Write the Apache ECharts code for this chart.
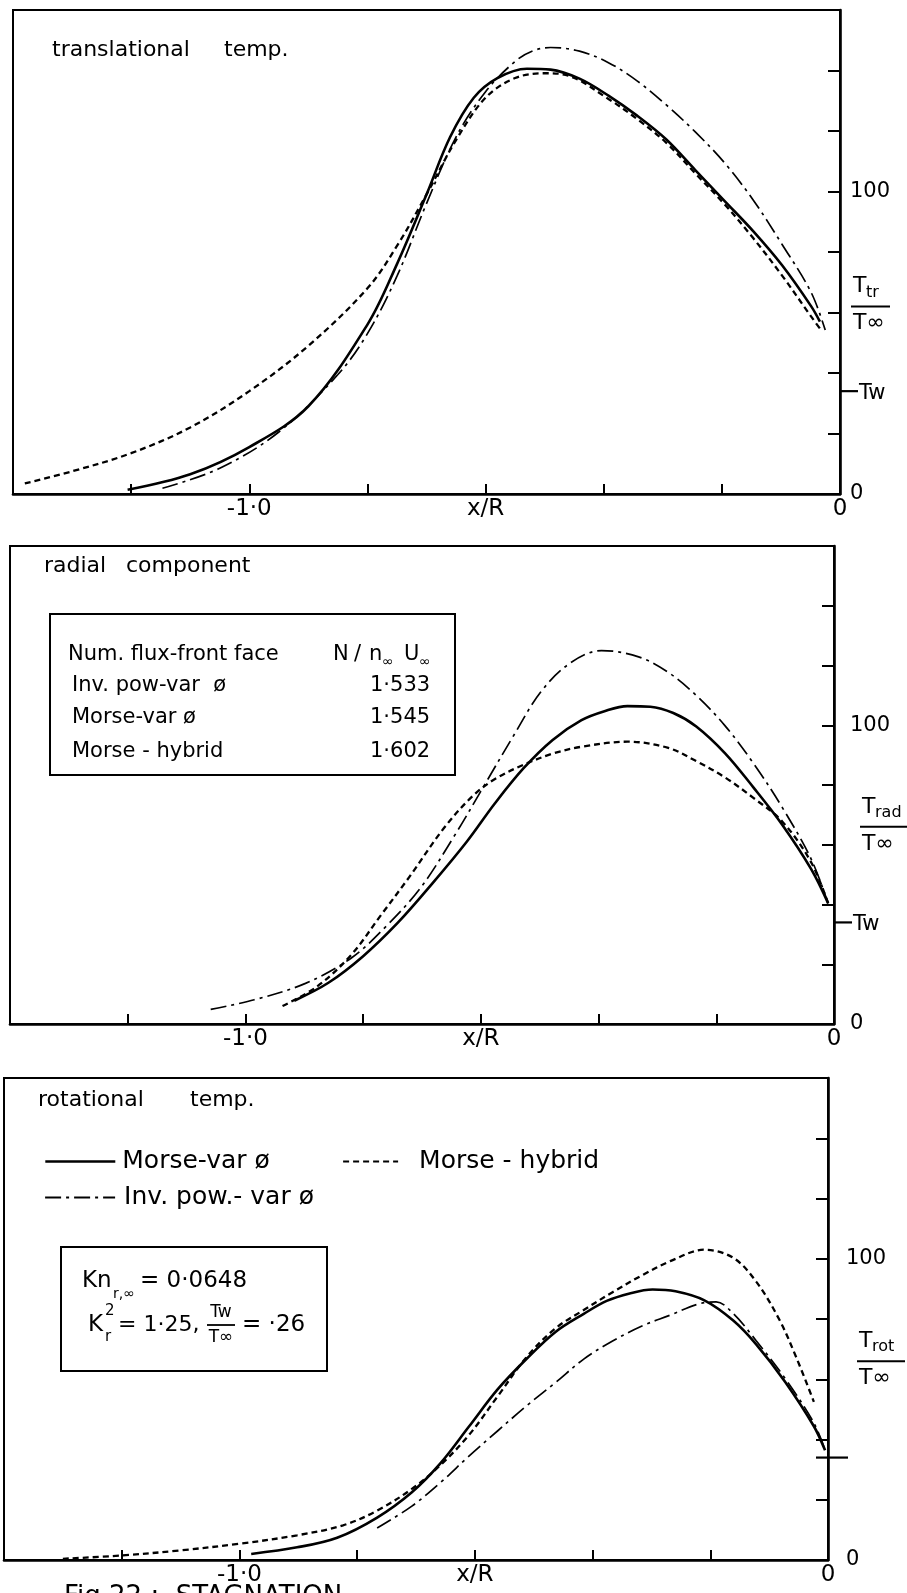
<!DOCTYPE html>
<html><head><meta charset="utf-8">
<script src="https://cdn.jsdelivr.net/npm/echarts@6/dist/echarts.min.js"></script>
<style>html,body{margin:0;padding:0;background:#fff;}#c{width:907px;height:1593px;}</style>
</head><body><div id="c"></div>
<script>
// ---------------- DATA ----------------
const X_MIN = -1.4, X_MAX = 0, X_STEP = 0.2;
const Y_MIN = 0, Y_MAX = 160, Y_STEP = 20;
const TW_LEVEL = 34;                       // Tw mark on the T/T∞ axis
const X_TICK_LABELS = { '-1': '-1·0', '-0.6': 'x/R', '0': '0' };
const Y_TICK_LABELS = { '0': '0', '100': '100' };

const PANEL_TITLES = [['translational', 'temp.'], ['radial', 'component'], ['rotational', 'temp.']];
const AXIS_SUBS = ['tr', 'rad', 'rot'];

const NAME_MV = 'Morse-var ø';
const NAME_MH = 'Morse - hybrid';
const NAME_IP = 'Inv. pow.- var ø';

// translational temperature
const trMorseVar = [[-1.206,1.4],[-1.1,6.5],[-1.0,15.5],[-0.9,29],[-0.8,56],[-0.75,76],[-0.7,99],[-0.66,118],[-0.62,131],[-0.58,137.5],[-0.53,140.6],[-0.49,140.3],[-0.441,137.3],[-0.392,131.7],[-0.343,125.0],[-0.294,117.2],[-0.245,107.1],[-0.196,97.0],[-0.147,86.9],[-0.098,75.6],[-0.049,62.1],[-0.034,57.0]];
const trInvPow = [[-1.147,1.9],[-1.05,8.5],[-0.95,20.5],[-0.85,39.5],[-0.8,53],[-0.75,72],[-0.7,96],[-0.65,118],[-0.6,133],[-0.55,143],[-0.52,146.5],[-0.49,147.6],[-0.441,146.4],[-0.392,142.6],[-0.343,136.5],[-0.294,128.6],[-0.245,119.7],[-0.196,109.6],[-0.147,97.2],[-0.098,82.5],[-0.049,66.7],[-0.025,54.2]];
const trHybrid = [[-1.38,3.5],[-1.3,7.5],[-1.2,13.5],[-1.1,22],[-1.0,34],[-0.9,49],[-0.8,68],[-0.75,82],[-0.7,99],[-0.65,117],[-0.6,131],[-0.55,137.5],[-0.5,139.1],[-0.46,138.3],[-0.392,130.6],[-0.343,123.9],[-0.294,116.1],[-0.245,106.0],[-0.196,95.9],[-0.147,84.6],[-0.098,72.2],[-0.049,58.7],[-0.034,54.7]];

// radial component
const radInvPow = [[-1.059,4.9],[-0.985,8.1],[-0.898,13.6],[-0.820,22.1],[-0.761,32.7],[-0.702,45.7],[-0.644,63.3],[-0.595,79.6],[-0.546,96.0],[-0.498,111.2],[-0.449,120.7],[-0.395,125.0],[-0.332,122.9],[-0.283,117.9],[-0.234,110.0],[-0.185,99.8],[-0.137,87.3],[-0.088,72.5],[-0.039,55.3],[-0.010,40.4]];
const radMorseVar = [[-0.917,7.8],[-0.859,13.8],[-0.800,22.7],[-0.741,33.9],[-0.683,46.9],[-0.624,61.0],[-0.576,73.9],[-0.527,85.7],[-0.478,95.1],[-0.429,101.7],[-0.390,104.7],[-0.351,106.4],[-0.312,106.2],[-0.273,104.1],[-0.234,99.6],[-0.185,90.6],[-0.137,79.2],[-0.088,66.7],[-0.039,51.9],[-0.010,40.4]];
const radHybrid = [[-0.937,6.0],[-0.878,12.6],[-0.820,23.2],[-0.771,36.1],[-0.722,49.1],[-0.663,65.5],[-0.615,76.1],[-0.576,82.0],[-0.527,86.8],[-0.478,90.5],[-0.429,92.8],[-0.351,94.5],[-0.283,92.5],[-0.234,88.0],[-0.185,82.5],[-0.137,75.7],[-0.088,67.8],[-0.039,54.2],[-0.010,40.4]];

// rotational temperature
const rotHybrid = [[-1.30,0.4],[-1.2,1.5],[-1.1,3.2],[-1.0,5.4],[-0.902,8.2],[-0.824,11.5],[-0.766,16.4],[-0.707,23.6],[-0.659,31.4],[-0.610,41.5],[-0.561,54.4],[-0.512,67.4],[-0.463,76.9],[-0.415,83.0],[-0.366,88.9],[-0.317,94.4],[-0.268,99.2],[-0.210,103.0],[-0.161,100.3],[-0.122,92.4],[-0.083,79.9],[-0.054,67.3],[-0.024,52.5]];
const rotMorseVar = [[-0.980,2.0],[-0.902,4.2],[-0.834,7.4],[-0.766,14.1],[-0.707,22.5],[-0.659,32.0],[-0.610,44.3],[-0.561,56.7],[-0.512,66.8],[-0.463,75.7],[-0.415,81.7],[-0.376,86.0],[-0.337,88.5],[-0.298,89.8],[-0.259,89.2],[-0.210,86.2],[-0.161,79.5],[-0.122,71.6],[-0.073,59.2],[-0.024,44.4],[-0.005,36.4]];
const rotInvPow = [[-0.766,10.6],[-0.707,17.9],[-0.659,25.6],[-0.610,34.5],[-0.561,42.9],[-0.512,51.2],[-0.463,58.9],[-0.415,66.7],[-0.366,72.7],[-0.317,77.6],[-0.268,81.3],[-0.220,85.0],[-0.190,85.7],[-0.161,81.8],[-0.122,72.8],[-0.073,60.3],[-0.024,45.5],[-0.005,36.4]];

// annotation tables
const FLUX_HEADER = ['Num. flux-front face'];
const FLUX_ROWS = [['Inv. pow-var  ø', '1·533'], ['Morse-var ø', '1·545'], ['Morse - hybrid', '1·602']];
const KN_VALUE = '= 0·0648';
const KR2_VALUE = '= 1·25,';
const TW_RATIO = '= ·26';
const CAPTION = 'Fig.22 :  STAGNATION';

// ---------------- CHART ----------------
const FONT = "'DejaVu Sans', 'Liberation Sans', sans-serif";
const GRIDS = [
  { left: 13, top: 10, width: 827, height: 484 },
  { left: 10, top: 546, width: 824, height: 478 },
  { left: 4, top: 1078, width: 824, height: 482 }
];
const Y_LABEL_MARGIN = [10, 16, 18];
const LINE_STYLES = {};
LINE_STYLES[NAME_MV] = { type: 'solid', width: 2.6, z: 3 };
LINE_STYLES[NAME_MH] = { type: [6, 4], width: 2.3, z: 2 };
LINE_STYLES[NAME_IP] = { type: [16, 5, 3, 5], width: 1.7, z: 2 };

const PANEL_SERIES = [
  [[NAME_MV, trMorseVar], [NAME_IP, trInvPow], [NAME_MH, trHybrid]],
  [[NAME_MV, radMorseVar], [NAME_IP, radInvPow], [NAME_MH, radHybrid]],
  [[NAME_MV, rotMorseVar], [NAME_IP, rotInvPow], [NAME_MH, rotHybrid]]
];

function keyOf(v) { return String(Math.round(v * 1000) / 1000); }

const chart = echarts.init(document.getElementById('c'), null, { renderer: 'canvas', width: 907, height: 1593 });

const series = [];
PANEL_SERIES.forEach((list, gi) => {
  list.forEach(([name, data]) => {
    const st = LINE_STYLES[name];
    series.push({
      type: 'line', name, xAxisIndex: gi, yAxisIndex: gi, data,
      smooth: 0.35, symbol: 'none', showSymbol: false, silent: true, z: st.z,
      itemStyle: { color: '#000' },
      lineStyle: { color: '#000', width: st.width, type: st.type }
    });
  });
});

function legendCfg(name, left, top, itemWidth, lineWidth, textPad) {
  return {
    data: [name], left, top, itemWidth, itemHeight: 14,
    orient: 'horizontal', selectedMode: false, padding: 0,
    itemStyle: { opacity: 0, borderWidth: 0 },
    lineStyle: { width: lineWidth, color: '#000' },
    textStyle: { fontSize: 25, fontFamily: FONT, color: '#000', padding: [0, 0, 0, textPad] }
  };
}

chart.setOption({
  animation: false,
  backgroundColor: '#fff',
  grid: GRIDS.map(g => Object.assign({ show: true, borderColor: '#000', borderWidth: 2, containLabel: false }, g)),
  xAxis: GRIDS.map((g, i) => ({
    type: 'value', gridIndex: i, min: X_MIN, max: X_MAX, interval: X_STEP,
    axisLine: { show: true, onZero: false, lineStyle: { color: '#000', width: 2.6 } },
    axisTick: { show: true, inside: true, length: 10, lineStyle: { color: '#000', width: 2 } },
    splitLine: { show: false },
    axisLabel: {
      color: '#000', fontSize: 23, fontFamily: FONT, margin: 4,
      formatter: v => X_TICK_LABELS[keyOf(v)] || ''
    }
  })),
  yAxis: GRIDS.map((g, i) => ({
    type: 'value', gridIndex: i, position: 'right', min: Y_MIN, max: Y_MAX, interval: Y_STEP,
    axisLine: { show: true, lineStyle: { color: '#000', width: 2.6 } },
    axisTick: { show: true, inside: true, length: 12, lineStyle: { color: '#000', width: 2 } },
    splitLine: { show: false },
    axisLabel: {
      color: '#000', fontSize: 21, fontFamily: FONT, margin: Y_LABEL_MARGIN[i],
      formatter: v => Y_TICK_LABELS[keyOf(v)] || ''
    }
  })),
  legend: [
    legendCfg(NAME_MV, 44, 1149, 70, 2.6, 2),
    legendCfg(NAME_MH, 342, 1149, 55, 2.2, 16),
    legendCfg(NAME_IP, 44, 1185, 70, 2.2, 4)
  ],
  series
});

// ---------------- ANNOTATIONS ----------------
function T(x, y, s, size, extra) {
  return {
    type: 'text', x, y, silent: true, z: 10,
    style: Object.assign({ text: s, font: size + 'px ' + FONT, fill: '#000', align: 'left', verticalAlign: 'middle' }, extra || {})
  };
}
function L(x1, y1, x2, y2, w) {
  return { type: 'line', silent: true, z: 10, shape: { x1, y1, x2, y2 }, style: { stroke: '#000', lineWidth: w || 2 } };
}
function R(x, y, w, h) {
  return { type: 'rect', silent: true, z: 10, shape: { x, y, width: w, height: h }, style: { fill: 'none', stroke: '#000', lineWidth: 2 } };
}

const g = [];
// panel titles
const titlePos = [[52, 224, 50], [44, 126, 566], [38, 190, 1100]];
PANEL_TITLES.forEach((t, i) => {
  g.push(T(titlePos[i][0], titlePos[i][2], t[0], 22));
  g.push(T(titlePos[i][1], titlePos[i][2], t[1], 22));
});

// right-axis quantity labels and Tw marks
const fracVal = [62, 66, 66];
const fracDx = [13, 28, 31];
GRIDS.forEach((gr, i) => {
  const ax = gr.left + gr.width;
  const yBar = chart.convertToPixel({ yAxisIndex: i }, fracVal[i]);
  const x0 = ax + fracDx[i];
  g.push(T(x0, yBar - 20, 'T', 22));
  g.push(T(x0 + 13, yBar - 14, AXIS_SUBS[i], 16));
  g.push(L(x0 - 2, yBar, x0 + (i === 0 ? 37 : 46), yBar, 2));
  g.push(T(x0, yBar + 17, 'T∞', 22));
  const yTw = chart.convertToPixel({ yAxisIndex: i }, TW_LEVEL);
  if (i < 2) {
    g.push(L(ax, yTw, ax + 18, yTw, 2.2));
    g.push(T(ax + 19, yTw + 2, 'Tw', 21));
  } else {
    g.push(L(ax - 12, yTw, ax + 20, yTw, 2.2));
  }
});

// flux table (panel 2)
g.push(R(50, 614, 405, 161));
g.push(T(68, 655, FLUX_HEADER[0], 21));
g.push(T(333, 655, 'N', 21));
g.push(T(354, 655, '/', 21));
g.push(T(369, 655, 'n', 21));
g.push(T(382, 662, '∞', 14));
g.push(T(404, 655, 'U', 21));
g.push(T(419, 662, '∞', 14));
const rowY = [686, 718, 752];
FLUX_ROWS.forEach((r, k) => {
  g.push(T(72, rowY[k], r[0], 21));
  g.push(T(370, rowY[k], r[1], 21));
});

// Kn box (panel 3)
g.push(R(61, 1247, 266, 124));
g.push(T(82, 1281, 'Kn', 23));
g.push(T(113, 1294, 'r,∞', 14));
g.push(T(140, 1281, KN_VALUE, 23));
g.push(T(88, 1325, 'K', 23));
g.push(T(105, 1311, '2', 15));
g.push(T(105, 1337, 'r', 15));
g.push(T(118, 1325, KR2_VALUE, 22));
g.push(T(221, 1313, 'Tw', 17, { align: 'center' }));
g.push(L(207, 1325, 235, 1325, 1.8));
g.push(T(221, 1338, 'T∞', 17, { align: 'center' }));
g.push(T(242, 1325, TW_RATIO, 23));

// caption (cut by page edge)
g.push(T(64, 1584, CAPTION, 26, { verticalAlign: 'top' }));

chart.setOption({ graphic: { elements: g } });
</script>
</body></html>
